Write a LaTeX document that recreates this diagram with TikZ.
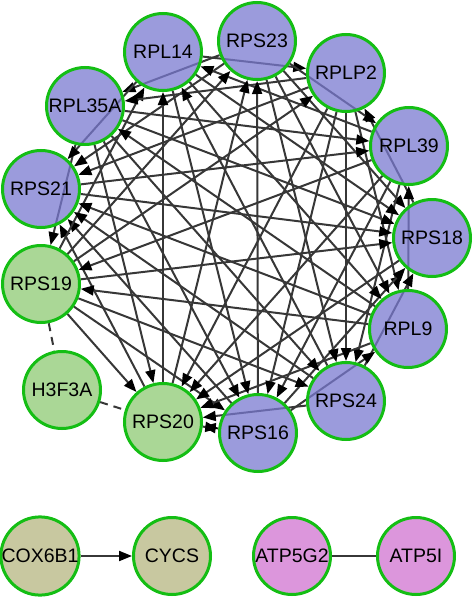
\documentclass[tikz,border=0pt]{standalone}
\usepackage{fontspec}
\setmainfont{Liberation Sans}
\usetikzlibrary{arrows.meta,backgrounds}
\definecolor{ribBlue}{RGB}{121,121,208}
\definecolor{hubGreen}{RGB}{141,201,115}
\definecolor{coxOlive}{RGB}{181,181,128}
\definecolor{atpPink}{RGB}{208,115,208}
\definecolor{rimGreen}{RGB}{20,190,20}
\definecolor{edgeGray}{RGB}{55,55,55}
\tikzset{
	gene/.style={
		circle,
		draw=rimGreen,
		line width=3pt,
		minimum size=77pt,
		inner sep=0pt,
		fill opacity=0.75,
		text opacity=1,
		font=\fontsize{19.5}{21}\selectfont
	},
	ia/.style={-{Triangle[length=13pt,width=10pt,color=black]}, line width=2pt, edgeGray},
	assoc/.style={line width=2pt, edgeGray, dash pattern=on 8pt off 6pt}
}
\begin{document}
\begin{tikzpicture}[x=1pt, y=-1pt]
		\useasboundingbox (0,0) rectangle (472,597);
		% ribosomal ring
		\node[gene, fill=ribBlue] (rps23) at (257,41) {RPS23};
		\node[gene, fill=ribBlue] (rplp2) at (346,73) {RPLP2};
		\node[gene, fill=ribBlue] (rpl39) at (409,146) {RPL39};
		\node[gene, fill=ribBlue] (rps18) at (432,238) {RPS18};
		\node[gene, fill=ribBlue] (rpl9) at (408,329) {RPL9};
		\node[gene, fill=ribBlue] (rps24) at (346,401) {RPS24};
		\node[gene, fill=ribBlue] (rps16) at (258,433) {RPS16};
		\node[gene, fill=hubGreen] (rps20) at (163,422) {RPS20};
		\node[gene, fill=hubGreen] (rps19) at (41,284) {RPS19};
		\node[gene, fill=ribBlue] (rps21) at (41,189) {RPS21};
		\node[gene, fill=ribBlue] (rpl35a) at (85,106) {RPL35A};
		\node[gene, fill=ribBlue] (rpl14) at (163,52) {RPL14};
		\node[gene, fill=hubGreen] (h3f3a) at (62,390) {H3F3A};
		% small components
		\node[gene, fill=coxOlive] (cox6b1) at (40,556) {COX6B1};
		\node[gene, fill=coxOlive] (cycs) at (172,556) {CYCS};
		\node[gene, fill=atpPink] (atp5g2) at (292,556) {ATP5G2};
		\node[gene, fill=atpPink] (atp5i) at (416,556) {ATP5I};
		\begin{pgfonlayer}{background}
		\foreach \a/\b in {rps16/rps20, rps20/rps16, rps19/rps20,
			rps18/rplp2, rpl9/rpl39, rps24/rps18, rps16/rpl9, rpl35a/rps19, rps23/rpl35a,
			rpl14/rplp2, rps23/rpl39, rps24/rps20, rps19/rps16, rps20/rps21, rpl14/rps21,
			rps23/rps18, rplp2/rpl9, rpl39/rps24, rps16/rps18, rpl9/rps20, rps19/rps24,
			rps16/rps21, rpl35a/rps20, rps19/rpl14, rps23/rps21, rplp2/rpl35a, rpl39/rpl14,
			rpl9/rps19, rps23/rpl9, rplp2/rps24, rpl39/rps16, rps18/rps20, rps24/rps21,
			rpl35a/rps16, rps20/rpl14, rps19/rps23, rplp2/rps21, rpl35a/rpl39, rpl14/rps18,
			rps23/rps24, rplp2/rps16, rpl39/rps20, rps19/rps18, rpl9/rps21, rpl35a/rps24,
			rpl14/rps16, rps20/rps23, rps19/rplp2, rps21/rpl39, rpl35a/rps18, rpl14/rpl9,
			rps16/rps23, rplp2/rps20, rpl39/rps19, rps21/rps18, rpl9/rpl35a, rps24/rpl14}
			\draw[ia] (\a) -- (\b);
		\draw[assoc] (rps19) -- (h3f3a);
		\draw[assoc] (h3f3a) -- (rps20);
		\draw[ia] (cox6b1) -- (cycs);
		\draw[line width=2pt, edgeGray] (atp5g2) -- (atp5i);
		\end{pgfonlayer}
	\end{tikzpicture}
\end{document}
